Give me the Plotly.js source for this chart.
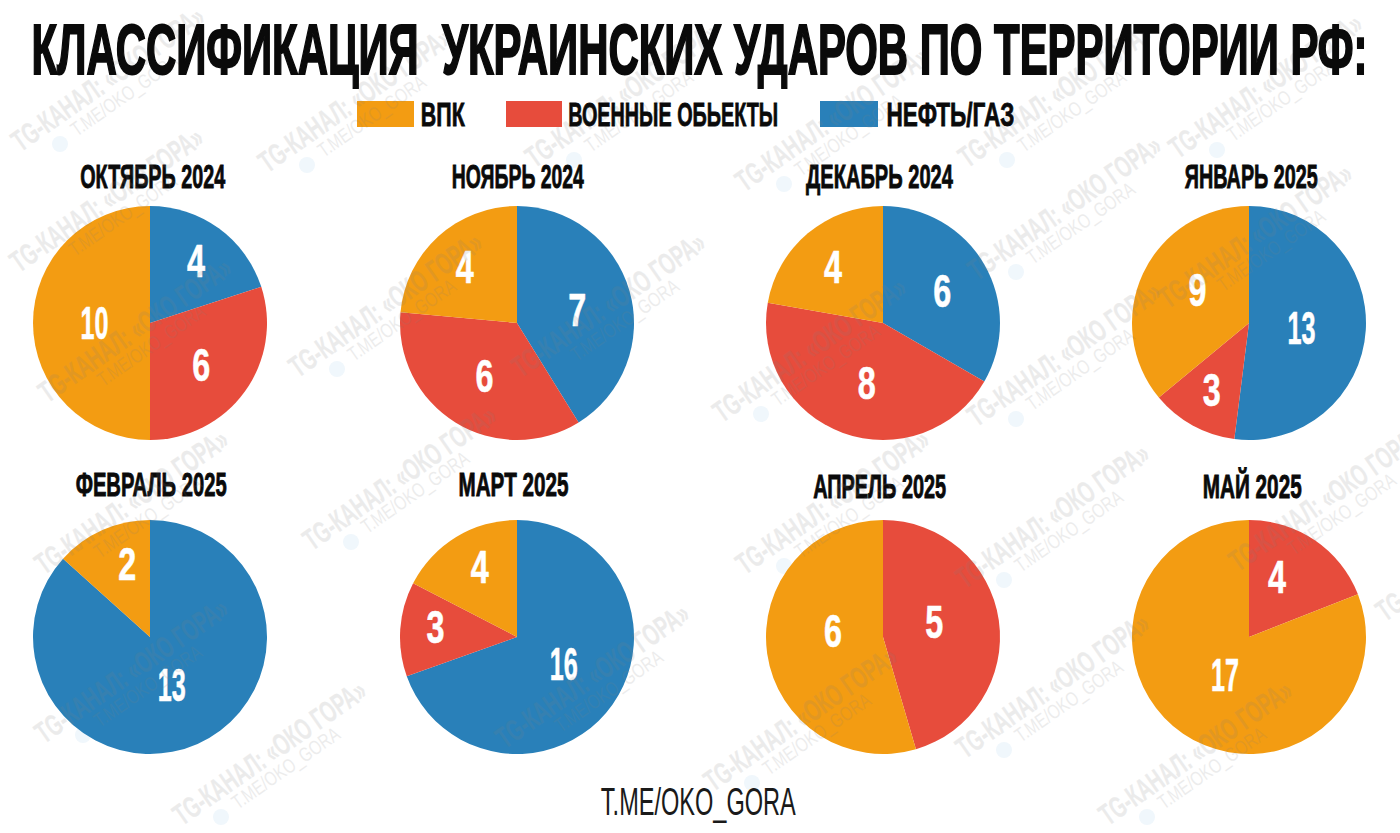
<!DOCTYPE html>
<html><head><meta charset="utf-8"><script src="https://cdn.plot.ly/plotly-3.0.1.min.js"></script>
<style>html,body{margin:0;background:#fff}#c{width:1400px;height:833px}</style></head><body><div id="c"></div><script>
const W=1400,H=833;
const titleText='КЛАССИФИКАЦИЯ  УКРАИНСКИХ УДАРОВ ПО ТЕРРИТОРИИ РФ:';
const months=['ОКТЯБРЬ 2024','НОЯБРЬ 2024','ДЕКАБРЬ 2024','ЯНВАРЬ 2025','ФЕВРАЛЬ 2025','МАРТ 2025','АПРЕЛЬ 2025','МАЙ 2025'];
const cats=['НЕФТЬ/ГАЗ','ВОЕННЫЕ ОБЬЕКТЫ','ВПК'];
const oil=[4,7,6,13,13,16,0,0];
const mil=[6,6,8,3,0,3,5,4];
const vpk=[10,4,4,9,2,4,6,17];
const footerText='T.ME/OKO_GORA';
const wmText='TG-КАНАЛ: «ОКО ГОРА»';
const wmSub='T.ME/OKO_GORA ';

const colors=['#2980b9','#e74c3c','#f39c12'];
const centersX=[150,517,883,1249], centersY=[323,637], radius=117;
const monthX=[152.5,518,879.5,1251.5,150.5,513,879.5,1251.5];
const monthY=[176,176,176,176,484,484,486,486];
const monthW=[145,132,147,133,151,110,133,99];
const legend=[[2,357,414,443.5,44],[1,506,562,673,210],[0,820,878,950,128]];
const wmStarts=[[13,144],[260,165],[527,160],[737,184],[960,160],[1170,150],
 [11,264],[290,369],[40,395],[513,369],[969,272],[714,414],[969,419],[1160,300],
 [36,566],[304,542],[737,566],[957,580],[1230,563],[1377,613],
 [36,735],[174,817],[705,783],[957,750],[1100,817],[497,740]];
// label nudges per pie, per slice [oil, military, vpk]
const nudge=[[[3,-2],[-1,4],[3,0]],[[3,3],[0,1],[-5,-4]],[[5,-1],[4,5],[-4,-1]],[[-6,1],[4,-8],[4,-7]],
 [[-2,-5],[0,0],[11,3]],[[-1,-7],[2,-4],[3,-4]],[[0,0],[-7,-7],[8,-14]],[[0,0],[-14,2],[9,-10]]];
const font='"Liberation Sans",sans-serif';
const widths={},strokes={};
const data=[],ann=[],shapes=[];
function note(t,x,y,size,color,w,stroke,weight,extra){
 widths[t]=w;strokes[t]=stroke;
 ann.push(Object.assign({text:t,x:x/W,y:1-y/H,xref:'paper',yref:'paper',showarrow:false,xanchor:'center',yanchor:'middle',
  font:{family:font,size:size,color:color,weight:weight}},extra||{}));
}
months.forEach((m,i)=>{
 const cx=centersX[i%4],cy=centersY[i<4?0:1];
 data.push({type:'pie',values:[oil[i],mil[i],vpk[i]],labels:cats,sort:false,direction:'clockwise',rotation:0,
  marker:{colors:colors,line:{width:0}},textinfo:'value',textposition:'inside',insidetextorientation:'horizontal',
  insidetextfont:{family:font,size:46,color:'#fff',weight:700},hoverinfo:'label+value',showlegend:false,
  domain:{x:[(cx-radius)/W,(cx+radius)/W],y:[1-(cy+radius)/H,1-(cy-radius)/H]}});
 note(m,monthX[i],monthY[i],34,'#0a0a0a',monthW[i],0.9,700);
});
wmStarts.forEach(p=>{
 const x=p[0],y=p[1];
 note(wmText,x+95,y-65,30,'#808080',228,0.3,700,{textangle:-35,opacity:0.15});
 note(wmSub,x+113,y-50,20,'#808080',130,0,400,{textangle:-35,opacity:0.14});
 shapes.push({type:'circle',layer:'below',xref:'paper',yref:'paper',x0:(x+39)/W,x1:(x+55)/W,y0:1-(y+8)/H,y1:1-(y-8)/H,fillcolor:'#f0f7fc',line:{width:0}});
});
note(titleText,699,50,70,'#0a0a0a',1336,2,700);
legend.forEach(l=>{
 shapes.push({type:'rect',layer:'below',xref:'paper',yref:'paper',x0:l[1]/W,x1:l[2]/W,y0:1-127/H,y1:1-101/H,fillcolor:colors[l[0]],line:{width:0}});
 note(cats[l[0]],l[3],114.5,33,'#0a0a0a',l[4],0.8,700);
});
note(footerText,698,802,38,'#1a1a1a',195,0,400);

function condense(){
 document.querySelectorAll('.annotation-text').forEach(el=>{
  const t=el.textContent;
  if(!(t in widths))return;
  el.style.whiteSpace='pre';
  el.setAttribute('textLength',widths[t]);
  el.setAttribute('lengthAdjust','spacingAndGlyphs');
  if(strokes[t]){el.style.stroke=el.style.fill;el.style.strokeWidth=strokes[t]+'px';}
 });
 document.querySelectorAll('.pielayer .trace').forEach((tr,i)=>{
  tr.querySelectorAll('.slicetext text').forEach(el=>{
   const t=el.textContent.trim();
   el.setAttribute('textLength',t.length>1?28:18);
   el.setAttribute('lengthAdjust','spacingAndGlyphs');
   el.style.stroke='#fff';el.style.strokeWidth='0.6px';
   const k=[oil[i],mil[i],vpk[i]].indexOf(+t);
   if(k>=0){el.setAttribute('dx',nudge[i][k][0]);el.setAttribute('dy',nudge[i][k][1]);}
  });
 });
}
Plotly.newPlot('c',data,{width:W,height:H,margin:{l:0,r:0,t:0,b:0},paper_bgcolor:'#fff',annotations:ann,shapes:shapes,showlegend:false},{displayModeBar:false}).then(condense);
</script></body></html>
